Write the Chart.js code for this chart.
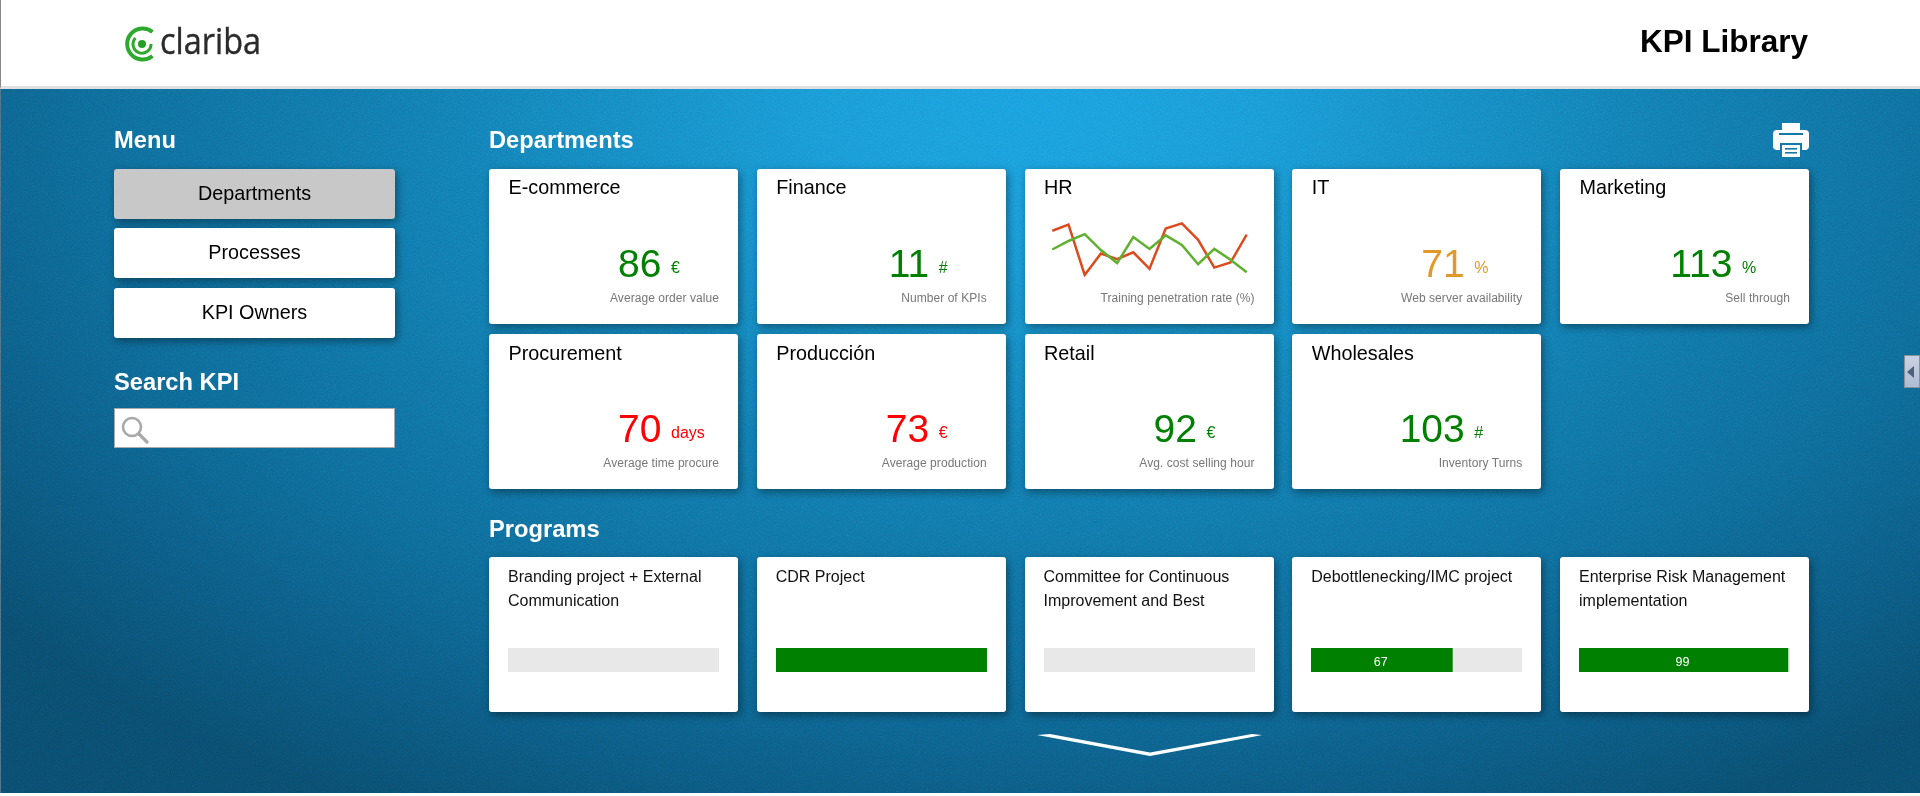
<!DOCTYPE html>
<html>
<head>
<meta charset="utf-8">
<title>KPI Library</title>
<script src="https://cdn.jsdelivr.net/npm/chart.js@4"></script>
<style>
    html, body { margin: 0; padding: 0; width: 1920px; height: 796px; overflow: hidden; background: #fff; font-family: "Liberation Sans", Arial, sans-serif; }
    #page { position: relative; width: 1920px; height: 796px; overflow: hidden; }
    #header { position: absolute; left: 0; top: 0; width: 1919px; height: 86px; background: #fff; border-left: 1px solid #888; border-bottom: 3px solid #e0e0e0; }
    #stage { position: absolute; left: 0; top: 89px; width: 1920px; height: 704px; border-left: 1px solid #4a6f85; box-sizing: border-box;
        background: radial-gradient(ellipse 1350px 800px at 1040px 20px, #1a9ddd 0%, #1a98d6 15%, #127ab0 45%, #0e6896 70%, #0a4b6c 100%); }
    #noise { position: absolute; left: 0; top: 89px; width: 1920px; height: 704px; opacity: .35; mix-blend-mode: overlay; pointer-events: none; }
    .txt { position: absolute; white-space: nowrap; }
    .card { position: absolute; width: 249px; height: 155px; background: #fff; border-radius: 3px; box-shadow: 2px 3px 8px rgba(0, 0, 0, .4); }
    .btn { position: absolute; left: 114px; width: 281px; height: 49.5px; line-height: 48px; text-align: center; font-size: 19.8px; color: #000; background: #fff; border-radius: 3px; box-shadow: 2px 3px 8px rgba(0, 0, 0, .4); }
    canvas { position: absolute; display: block; }
</style>
</head>
<body>
<div id="page">
    <div id="header"></div>
    <div id="stage"></div>
    <svg id="noise" xmlns="http://www.w3.org/2000/svg">
        <filter id="grain"><feTurbulence type="fractalNoise" baseFrequency="0.8" numOctaves="2" seed="4"/><feColorMatrix type="saturate" values="0"/></filter>
        <rect width="1920" height="704" filter="url(#grain)"/>
    </svg>
    <svg style="position:absolute;left:110px;top:4px" width="180" height="80" viewBox="110 4 180 80">
        <path d="M152.5 32 A15.5 15.5 0 1 0 152.5 56" fill="none" stroke="#2fa82f" stroke-width="4"/>
        <path d="M135.5 38 A9 9 0 1 0 151 44" fill="none" stroke="#2fa82f" stroke-width="3"/>
        <circle cx="142" cy="44" r="4" fill="#23a023"/>
        <text x="160" y="54" font-family="Open Sans" font-size="36" fill="#2b2b2b" stroke="#2b2b2b" stroke-width=".4" textLength="101" lengthAdjust="spacingAndGlyphs">clariba</text>
    </svg>
    <svg style="position:absolute;left:1770px;top:120px" width="42" height="40" viewBox="1770 120 42 40">
        <rect x="1773" y="130" width="36" height="20" rx="4" fill="#fff"/>
        <rect x="1782" y="123" width="18" height="10" fill="#fff"/>
        <rect x="1779" y="133" width="24" height="2" fill="#1478a8"/>
        <rect x="1780" y="143" width="22" height="14" fill="#1478a8"/>
        <rect x="1782" y="145" width="18" height="12" fill="#fff"/>
        <rect x="1785" y="148" width="12" height="1.6" fill="#1478a8"/>
        <rect x="1785" y="152" width="12" height="1.6" fill="#1478a8"/>
    </svg>
    <svg style="position:absolute;left:114px;top:408px" width="281" height="40">
        <rect x=".5" y=".5" width="280" height="39" fill="#fff" stroke="#aaa"/>
        <circle cx="18" cy="19" r="9" fill="none" stroke="#a8a8a8" stroke-width="2.6"/>
        <line x1="25" y1="26" x2="33" y2="34" stroke="#a8a8a8" stroke-width="3.2" stroke-linecap="round"/>
    </svg>
    <svg style="position:absolute;left:1030px;top:728px" width="240" height="36" viewBox="1030 728 240 36">
        <path d="M1037 735 L1050 734 L1150 752.5 L1252 734 L1262 735 L1252 737 L1150 756 L1048 737 Z" fill="#fff"/>
    </svg>
    <div style="position:absolute;left:1904px;top:355px;width:16px;height:33px;box-sizing:border-box;border:1px solid #8a8f98;background:linear-gradient(#c8d2e4,#aebcd4)"></div>
    <svg style="position:absolute;left:1906px;top:364px" width="10" height="16"><path d="M1 8 L8 2 L8 14 Z" fill="#4f6078"/></svg>
</div>

<script>
const menuItems = ["Departments", "Processes", "KPI Owners"];

const deptNames = ["E-commerce", "Finance", "HR", "IT", "Marketing", "Procurement", "Producción", "Retail", "Wholesales"];
const deptValues = [86, 11, null, 71, 113, 70, 73, 92, 103];
const deptUnits = ["€", "#", "", "%", "%", "days", "€", "€", "#"];
const deptLabels = ["Average order value", "Number of KPIs", "Training penetration rate (%)", "Web server availability", "Sell through",
    "Average time procure", "Average production", "Avg. cost selling hour", "Inventory Turns"];
const deptStatus = ["good", "good", "", "warn", "good", "bad", "bad", "good", "good"];

// HR sparkline
const hrMonths = ["J", "F", "M", "A", "M", "J", "J", "A", "S", "O", "N", "D", "J2"];
const hrActual = [81, 92, 3, 41, 31, 43, 14, 85, 94, 65, 16, 25, 74];
const hrTarget = [48, 63, 75, 47, 24, 70, 49, 73, 56, 22, 49, 30, 8];

const programNames = [
    ["Branding project + External", "Communication"],
    ["CDR Project"],
    ["Committee for Continuous", "Improvement and Best"],
    ["Debottlenecking/IMC project"],
    ["Enterprise Risk Management", "implementation"]
];
const programValues = [0, 100, 0, 67, 99];

const statusColors = { good: "#008000", warn: "#e5982a", bad: "#ff0000" };

const page = document.getElementById("page");

// puts a line of text with its baseline at y (Liberation Sans metrics)
function addText(parent, text, x, y, size, color, extra = {}) {
    const el = document.createElement("div");
    el.className = "txt";
    el.textContent = text;
    el.style.fontSize = size + "px";
    el.style.lineHeight = size + "px";
    el.style.top = (y - size * 0.8465) + "px";
    el.style.color = color;
    if (extra.right) {
        el.style.right = x + "px";
    } else {
        el.style.left = x + "px";
    }
    if (extra.bold) el.style.fontWeight = "bold";
    if (extra.spacing) el.style.letterSpacing = extra.spacing + "px";
    parent.appendChild(el);
    return el;
}

addText(page, "KPI Library", 1640, 53, 31.5, "#000", { bold: true });
addText(page, "Menu", 114, 149, 23.7, "#fff", { bold: true });
addText(page, "Departments", 489, 149, 23.7, "#fff", { bold: true });
addText(page, "Search KPI", 114, 391, 23.7, "#fff", { bold: true });
addText(page, "Programs", 489, 538, 23.7, "#fff", { bold: true });

const menuTops = [169, 228, 288];
menuItems.forEach((item, i) => {
    const btn = document.createElement("div");
    btn.className = "btn";
    btn.textContent = item;
    btn.style.top = menuTops[i] + "px";
    if (i === 0) btn.style.background = "#c8c8c8";
    page.appendChild(btn);
});

function addCard(col, top) {
    const card = document.createElement("div");
    card.className = "card";
    card.style.left = (489 + col * 267.75) + "px";
    card.style.top = top + "px";
    page.appendChild(card);
    return card;
}

deptNames.forEach((name, i) => {
    const card = addCard(i % 5, i < 5 ? 169 : 334);
    addText(card, name, 19.5, i < 5 ? 25.5 : 27, 19.8, "#000");
    addText(card, deptLabels[i], 19, 133, 12, "#777", { right: true, spacing: 0.06 });
    if (deptValues[i] !== null) {
        const color = statusColors[deptStatus[i]];
        addText(card, String(deptValues[i]), 76.5, 108, 39, color, { right: true });
        addText(card, deptUnits[i], 182, 104.5, 16, color);
    }
});

programNames.forEach((lines, i) => {
    const card = addCard(i, 557);
    lines.forEach((line, n) => addText(card, line, 19, 25.7 + n * 24, 16, "#111"));

    const cv = document.createElement("canvas");
    cv.style.left = "19px";
    cv.style.top = "91px";
    cv.style.background = "#e8e8e8";
    cv.width = 211;
    cv.height = 24;
    card.appendChild(cv);

    new Chart(cv, {
        type: "bar",
        data: {
            labels: [lines[0]],
            datasets: [{
                data: [programValues[i]],
                backgroundColor: ctx => (ctx.raw > 0 ? "#008000" : "transparent"),
                barPercentage: 1,
                categoryPercentage: 1
            }]
        },
        options: {
            indexAxis: "y",
            responsive: false,
            animation: false,
            plugins: { legend: { display: false }, tooltip: { enabled: false } },
            scales: {
                x: { display: false, min: 0, max: 100 },
                y: { display: false }
            }
        },
        plugins: [{
            id: "barValue",
            afterDatasetsDraw(chart) {
                const v = programValues[i];
                if (v <= 0 || v >= 100) return;
                const bar = chart.getDatasetMeta(0).data[0];
                const c = chart.ctx;
                c.save();
                c.fillStyle = "#fff";
                c.font = '12.5px "Liberation Sans"';
                c.textAlign = "center";
                c.textBaseline = "middle";
                c.fillText(String(v), (bar.base + bar.x) / 2 - 1, bar.y + 2.7);
                c.restore();
            }
        }]
    });
});

// HR sparkline sits in the third card of the first row
const hrCanvas = document.createElement("canvas");
hrCanvas.style.left = "1046px";
hrCanvas.style.top = "215px";
hrCanvas.width = 207;
hrCanvas.height = 67;
page.appendChild(hrCanvas);

new Chart(hrCanvas, {
    type: "line",
    data: {
        labels: hrMonths,
        datasets: [
            { data: hrTarget, borderColor: "#5fb02e", borderWidth: 2.5, pointRadius: 0, tension: 0 },
            { data: hrActual, borderColor: "#dc4a1e", borderWidth: 2.5, pointRadius: 0, tension: 0 }
        ]
    },
    options: {
        responsive: false,
        animation: false,
        layout: { padding: { left: 6.3, right: 6.3, top: 5, bottom: 5.3 } },
        plugins: { legend: { display: false }, tooltip: { enabled: false } },
        scales: {
            x: { display: false },
            y: { display: false, min: 0, max: 100 }
        }
    }
});
</script>
</body>
</html>
